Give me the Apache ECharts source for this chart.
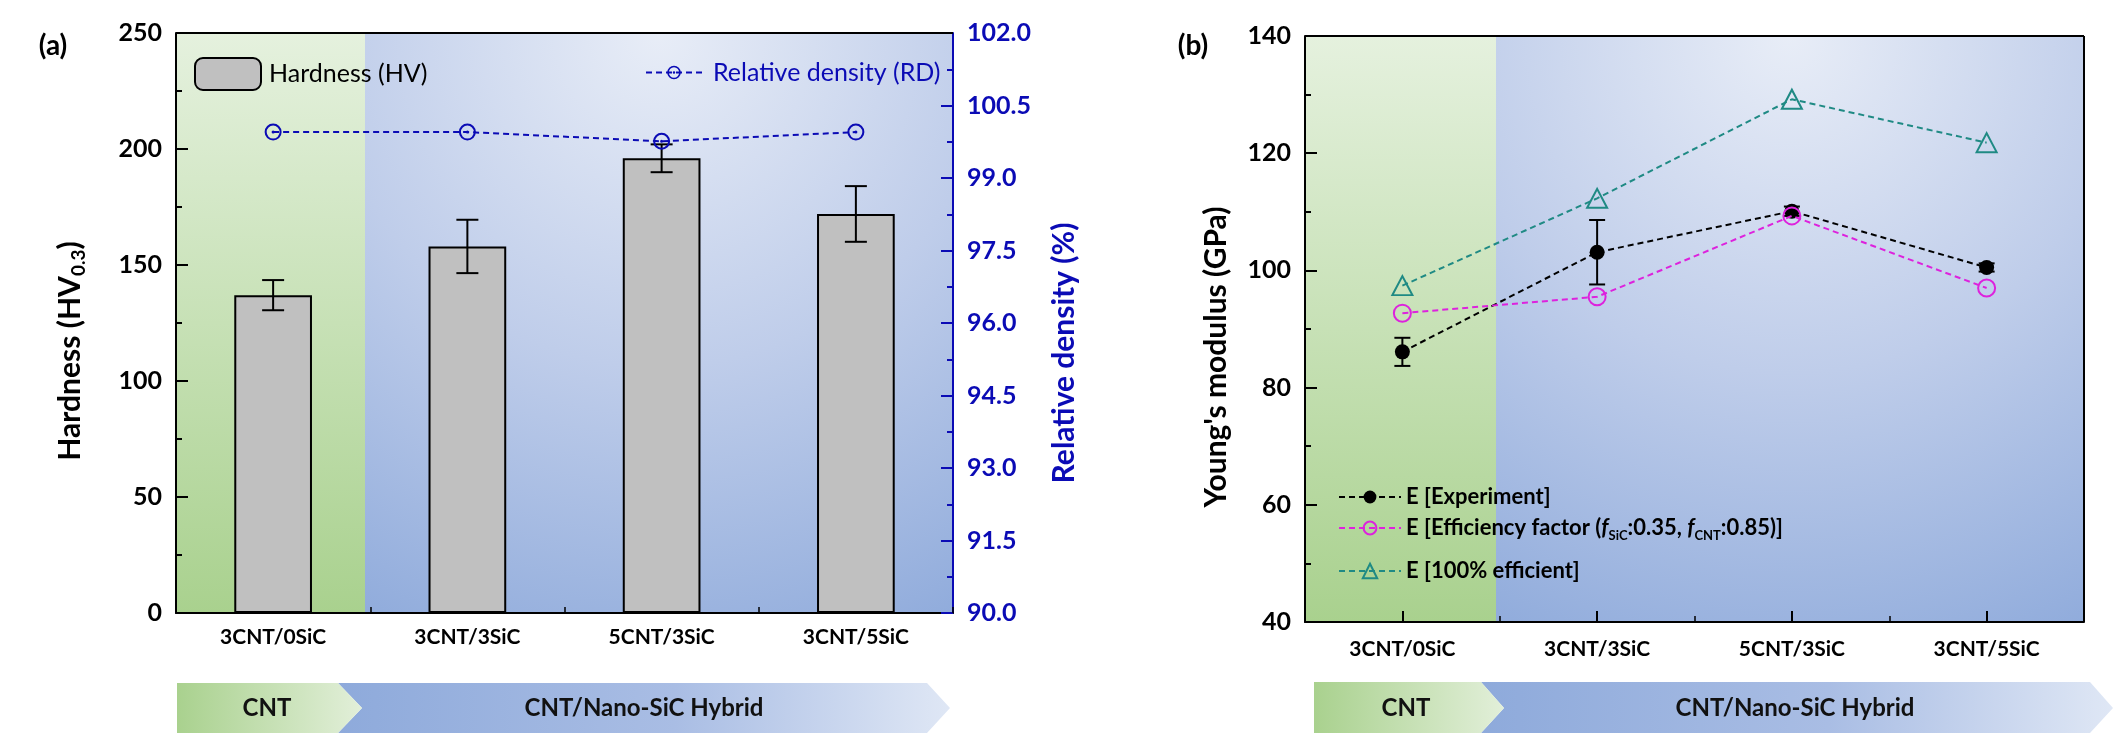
<!DOCTYPE html>
<html>
<head>
<meta charset="utf-8">
<script src="https://cdn.jsdelivr.net/npm/echarts@6/dist/echarts.min.js"></script>
<style>
html,body{margin:0;padding:0;background:#fff;}
#chart{width:2123px;height:755px;}
</style>
</head>
<body>
<div id="chart"></div>
<script>
// ---------- data ----------
const categories = ['3CNT/0SiC', '3CNT/3SiC', '5CNT/3SiC', '3CNT/5SiC'];
// panel (a)
const hardness = [137, 158, 196, 172];
const hardnessErr = [6.5, 11.5, 6, 12];
const relDensity = [99.95, 99.95, 99.76, 99.95];
const hardnessTicks = [0, 50, 100, 150, 200, 250];
const densityTicks = [90.0, 91.5, 93.0, 94.5, 96.0, 97.5, 99.0, 100.5, 102.0];
// panel (b)
const eExperiment = [86.1, 103.1, 110.1, 100.5];
const eExperimentErr = [2.4, 5.5, 0.8, 0.7];
const eEfficiency = [92.7, 95.5, 109.3, 97.0];
const e100 = [97.4, 112.3, 129.2, 121.8];
const modulusTicks = [40, 60, 80, 100, 120, 140];

// ---------- layout / style ----------
const FONT = 'Lato';
const BLUE = '#0b0bb5';
const MAG = '#dd22dd';
const TEAL = '#1f8a84';
const G0 = {x: 176, y: 33, w: 777, h: 580};
const G1 = {x: 1305, y: 36, w: 779, h: 586};

const chart = echarts.init(document.getElementById('chart'), null, {renderer: 'canvas'});

function errRender(capHalf) {
  return function (params, api) {
    const x = api.value(0);
    const lo = api.coord([x, api.value(1)]);
    const hi = api.coord([x, api.value(2)]);
    const st = {stroke: '#000', lineWidth: 2, fill: null};
    return {
      type: 'group',
      children: [
        {type: 'line', shape: {x1: lo[0], y1: lo[1], x2: hi[0], y2: hi[1]}, style: st},
        {type: 'line', shape: {x1: lo[0] - capHalf, y1: lo[1], x2: lo[0] + capHalf, y2: lo[1]}, style: st},
        {type: 'line', shape: {x1: hi[0] - capHalf, y1: hi[1], x2: hi[0] + capHalf, y2: hi[1]}, style: st}
      ]
    };
  };
}
const errData = (v, e) => v.map((d, i) => [i, d - e[i], d + e[i]]);

const greenGrad = {type: 'linear', x: 0, y: 0, x2: 0, y2: 1,
  colorStops: [{offset: 0, color: '#e5f1de'}, {offset: 1, color: '#a9d18e'}]};
const blueGrad = {type: 'radial', x: 0.5, y: 0, r: 1.15,
  colorStops: [{offset: 0, color: '#e8edf7'}, {offset: 0.5, color: '#bfcdea'}, {offset: 1, color: '#8eaadb'}]};
const greenArrow = {type: 'linear', x: 0, y: 0, x2: 1, y2: 0,
  colorStops: [{offset: 0, color: '#a9d18e'}, {offset: 1, color: '#e2efd9'}]};
const blueArrow = {type: 'linear', x: 0, y: 0, x2: 1, y2: 0,
  colorStops: [{offset: 0, color: '#8eaadb'}, {offset: 0.55, color: '#a9bde4'}, {offset: 1, color: '#dfe7f5'}]};

function panelGraphics(G, split, a) {
  const els = [];
  els.push({type: 'rect', z: -10, shape: {x: G.x, y: G.y, width: split - G.x, height: G.h}, style: {fill: greenGrad}});
  els.push({type: 'rect', z: -10, shape: {x: split, y: G.y, width: G.x + G.w - split, height: G.h}, style: {fill: blueGrad}});
  els.push({type: 'polygon', z: -5, shape: {points: [[a.x1, a.y0], [a.x2, a.y0], [a.x3, a.ym], [a.x2, a.y1], [a.x1, a.y1], [a.x1 + (a.g2 - a.g1), a.ym]]}, style: {fill: blueArrow}});
  els.push({type: 'polygon', z: -4, shape: {points: [[a.g0, a.y0], [a.g1, a.y0], [a.g2, a.ym], [a.g1, a.y1], [a.g0, a.y1]]}, style: {fill: greenArrow}});
  els.push({type: 'text', z: 5, style: {text: 'CNT', x: a.t1, y: a.ym, align: 'center', verticalAlign: 'middle', font: 'bold 24px ' + FONT, fill: '#111'}});
  els.push({type: 'text', z: 5, style: {text: 'CNT/Nano-SiC Hybrid', x: a.t2, y: a.ym, align: 'center', verticalAlign: 'middle', font: 'bold 24px ' + FONT, fill: '#111'}});
  return els;
}

const graphics = [].concat(
  panelGraphics(G0, 365, {g0: 177, g1: 338, g2: 362, x1: 338, x2: 927, x3: 950, y0: 683, y1: 733, ym: 708, t1: 267, t2: 644}),
  panelGraphics(G1, 1496, {g0: 1314, g1: 1481, g2: 1504, x1: 1481, x2: 2090, x3: 2113, y0: 682, y1: 733, ym: 708, t1: 1406, t2: 1795}),
  [
    {type: 'line', z: 10, shape: {x1: G0.x, y1: G0.y, x2: G0.x + G0.w, y2: G0.y}, style: {stroke: '#000', lineWidth: 2}},
    {type: 'line', z: 10, shape: {x1: G1.x, y1: G1.y, x2: G1.x + G1.w, y2: G1.y}, style: {stroke: '#000', lineWidth: 2}},
    {type: 'line', z: 10, shape: {x1: G1.x + G1.w, y1: G1.y, x2: G1.x + G1.w, y2: G1.y + G1.h}, style: {stroke: '#000', lineWidth: 2}},
    {type: 'text', style: {text: '(a)', x: 53, y: 46, align: 'center', verticalAlign: 'middle', font: 'bold 28px ' + FONT, fill: '#000'}},
    {type: 'text', style: {text: '(b)', x: 1193, y: 46, align: 'center', verticalAlign: 'middle', font: 'bold 28px ' + FONT, fill: '#000'}}
  ]
);

const tickLabel = (color) => ({fontFamily: FONT, fontWeight: 'bold', fontSize: 25, color: color});
const catLabel = {fontFamily: FONT, fontWeight: 'bold', fontSize: 21, color: '#000'};

function catAxis(gi, margin) {
  return {
    type: 'category', gridIndex: gi, data: categories, position: 'bottom',
    axisLine: {show: true, onZero: false, lineStyle: {color: '#000', width: 2}},
    axisTick: {show: true, inside: true, length: 11, alignWithLabel: true, lineStyle: {color: '#000', width: 2}},
    axisLabel: Object.assign({margin: margin}, catLabel),
    splitLine: {show: false}
  };
}
function boundaryAxis(gi) {
  return {
    type: 'category', gridIndex: gi, data: categories, position: 'bottom',
    axisLine: {show: false}, axisLabel: {show: false}, splitLine: {show: false},
    axisTick: {show: true, inside: true, length: 6, alignWithLabel: false, lineStyle: {color: '#000', width: 1.5}}
  };
}
function valAxis(gi, pos, ticks, color, name, nameGap, pad, fmt, extraName) {
  return {
    type: 'value', gridIndex: gi, position: pos,
    min: ticks[0], max: ticks[ticks.length - 1], interval: ticks[1] - ticks[0],
    axisLine: {show: true, lineStyle: {color: color, width: 2}},
    axisTick: {show: true, inside: true, length: 12, lineStyle: {color: color, width: 2}},
    minorTick: {show: true, splitNumber: 2, length: 6, lineStyle: {color: color, width: 2}},
    axisLabel: Object.assign({margin: 14, formatter: fmt}, tickLabel(color)),
    splitLine: {show: false},
    name: name, nameLocation: 'middle', nameGap: nameGap,
    nameTextStyle: Object.assign({fontFamily: FONT, fontWeight: 'bold', fontSize: 30, color: color, padding: pad}, extraName || {})
  };
}

const dash = [6, 4];
const rdSymbol = 'path://M0,-10A10,10,0,1,1,0,10A10,10,0,1,1,0,-10ZM0,-7.6A7.6,7.6,0,1,0,0,7.6A7.6,7.6,0,1,0,0,-7.6ZM0,-1.8A1.8,1.8,0,1,1,0,1.8A1.8,1.8,0,1,1,0,-1.8Z';

const legendText = {fontFamily: FONT, fontWeight: 'bold', fontSize: 22, color: '#000'};

const option = {
  animation: false,
  backgroundColor: '#fff',
  graphic: {elements: graphics},
  grid: [
    {left: G0.x, top: G0.y, width: G0.w, height: G0.h, containLabel: false},
    {left: G1.x, top: G1.y, width: G1.w, height: G1.h, containLabel: false}
  ],
  xAxis: [catAxis(0, 14), boundaryAxis(0), catAxis(1, 17), boundaryAxis(1)],
  yAxis: [
    valAxis(0, 'left', hardnessTicks, '#000', 'Hardness (HV{sub|0.3})', 88, [0, 56, 0, 0], v => v,
      {rich: {sub: {fontFamily: FONT, fontWeight: 'bold', fontSize: 19, color: '#000', padding: [16, 0, 0, 0]}}}),
    valAxis(0, 'right', densityTicks, BLUE, 'Relative density (%)', 96, [0, 60, 0, 0], v => v.toFixed(1)),
    valAxis(1, 'left', modulusTicks, '#000', "Young's modulus (GPa)", 74, [0, 56, 0, 0], v => v)
  ],
  legend: [
    {data: ['Hardness (HV)'], left: 189, top: 52, itemWidth: 66, itemHeight: 32, itemGap: 0,
      textStyle: {fontFamily: FONT, fontSize: 25, color: '#000', padding: [0, 0, 0, 3]}},
    {data: ['Relative density (RD)'], left: 640, top: 55, itemWidth: 56, itemHeight: 17,
      textStyle: {fontFamily: FONT, fontSize: 25, color: BLUE, padding: [0, 0, 0, 6]}},
    {data: ['E [Experiment]'], left: 1333, top: 481, itemWidth: 62, itemHeight: 16, textStyle: legendText},
    {data: ['E [Efficiency factor]'], left: 1333, top: 512, itemWidth: 62, itemHeight: 16,
      formatter: () => 'E [Efficiency factor ({f|f}{sub|SiC}:0.35, {f|f}{sub|CNT}:0.85)]',
      textStyle: Object.assign({}, legendText, {rich: {
        f: {fontFamily: FONT, fontWeight: 'bold', fontStyle: 'italic', fontSize: 22, color: '#000'},
        sub: {fontFamily: FONT, fontWeight: 'bold', fontSize: 13, color: '#000', padding: [16, 0, 0, 0]}
      }})},
    {data: ['E [100% efficient]'], left: 1333, top: 555, itemWidth: 62, itemHeight: 18, textStyle: legendText}
  ],
  series: [
    {
      name: 'Hardness (HV)', type: 'bar', xAxisIndex: 0, yAxisIndex: 0, data: hardness, barWidth: '40%',
      itemStyle: {color: '#c0c0c0', borderColor: '#000', borderWidth: 2}, z: 2
    },
    {
      name: 'hardnessErr', type: 'custom', xAxisIndex: 0, yAxisIndex: 0, data: errData(hardness, hardnessErr),
      renderItem: errRender(11), encode: {x: 0, y: [1, 2]}, z: 3
    },
    {
      name: 'Relative density (RD)', type: 'line', xAxisIndex: 0, yAxisIndex: 1, data: relDensity,
      symbol: rdSymbol, symbolSize: 17, itemStyle: {color: BLUE},
      lineStyle: {color: BLUE, width: 2, type: dash}, z: 4
    },
    {
      name: 'E [Experiment]', type: 'line', xAxisIndex: 2, yAxisIndex: 2, data: eExperiment,
      symbol: 'circle', symbolSize: 15, itemStyle: {color: '#000'},
      lineStyle: {color: '#000', width: 2, type: dash}, z: 3
    },
    {
      name: 'eErr', type: 'custom', xAxisIndex: 2, yAxisIndex: 2, data: errData(eExperiment, eExperimentErr),
      renderItem: errRender(8), encode: {x: 0, y: [1, 2]}, z: 3
    },
    {
      name: 'E [Efficiency factor]', type: 'line', xAxisIndex: 2, yAxisIndex: 2, data: eEfficiency,
      symbol: 'circle', symbolSize: 17, itemStyle: {color: 'rgba(0,0,0,0)', borderColor: MAG, borderWidth: 2},
      lineStyle: {color: MAG, width: 2, type: dash}, z: 4
    },
    {
      name: 'E [100% efficient]', type: 'line', xAxisIndex: 2, yAxisIndex: 2, data: e100,
      symbol: 'triangle', symbolSize: [20, 19], itemStyle: {color: 'rgba(0,0,0,0)', borderColor: TEAL, borderWidth: 2},
      lineStyle: {color: TEAL, width: 2, type: dash}, z: 4
    }
  ]
};
chart.setOption(option);
</script>
</body>
</html>
